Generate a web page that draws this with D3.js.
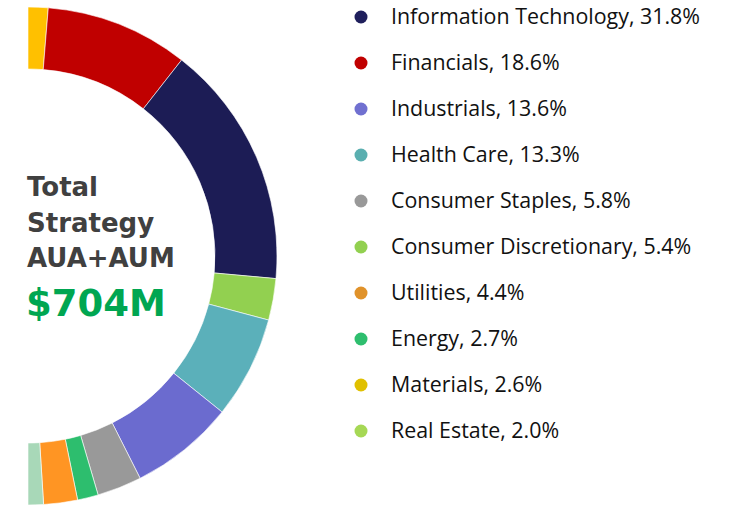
<!DOCTYPE html>
<html>
<head>
<meta charset="utf-8">
<script src="https://cdn.jsdelivr.net/npm/d3@7"></script>
<style>
  body { margin: 0; background: #fff; }
  svg { display: block; }
</style>
</head>
<body>
<svg width="733" height="506"></svg>
<script>
// legend order (as listed on the right)
const sectors = ['Information Technology', 'Financials', 'Industrials', 'Health Care', 'Consumer Staples',
  'Consumer Discretionary', 'Utilities', 'Energy', 'Materials', 'Real Estate'];
const weights = [31.8, 18.6, 13.6, 13.3, 5.8, 5.4, 4.4, 2.7, 2.6, 2.0];
// order of the slices round the ring, clockwise from the top
const ringOrder = ['Materials', 'Financials', 'Information Technology', 'Consumer Discretionary', 'Health Care',
  'Industrials', 'Consumer Staples', 'Energy', 'Utilities', 'Real Estate'];
const centerLines = ['Total', 'Strategy', 'AUA+AUM'];
const totalLabel = '$704M';

const sliceColor = {
  'Materials': '#ffc000', 'Financials': '#c00000', 'Information Technology': '#1c1c55',
  'Consumer Discretionary': '#92d050', 'Health Care': '#5bb0ba', 'Industrials': '#6b6bcf',
  'Consumer Staples': '#999999', 'Energy': '#2dbe6e', 'Utilities': '#ff9523', 'Real Estate': '#a8d8b8'
};
const dotColor = {
  'Information Technology': '#1f1f5c', 'Financials': '#c00000', 'Industrials': '#7070d0',
  'Health Care': '#5aafb0', 'Consumer Staples': '#999999', 'Consumer Discretionary': '#92d050',
  'Utilities': '#e0922a', 'Energy': '#2ebe6e', 'Materials': '#e0c000', 'Real Estate': '#a6d855'
};

const svg = d3.select('svg');
const weightOf = new Map(sectors.map((s, i) => [s, weights[i]]));
const ringData = ringOrder.map(s => ({ name: s, value: weightOf.get(s) }));

const cx = 28, cy = 256;
const outerR = 249, innerR = 187;

const pie = d3.pie()
  .value(d => d.value)
  .sort(null)
  .startAngle(0)
  .endAngle(Math.PI);

const arc = d3.arc()
  .innerRadius(innerR)
  .outerRadius(outerR);

const ring = svg.append('g')
  .attr('transform', `translate(${cx},${cy})`);

ring.selectAll('path')
  .data(pie(ringData))
  .enter().append('path')
    .attr('d', arc)
    .attr('fill', d => sliceColor[d.data.name])
    .attr('stroke', '#fff')
    .attr('stroke-width', 0.6);

// centre text
const centre = svg.append('g')
  .attr('font-family', 'DejaVu Sans, sans-serif')
  .attr('font-weight', 'bold');

centre.selectAll('text.line')
  .data(centerLines)
  .enter().append('text')
    .attr('class', 'line')
    .attr('x', 27)
    .attr('y', (d, i) => 196 + i * 35.5)
    .attr('font-size', 26)
    .attr('fill', '#404040')
    .text(d => d);

centre.append('text')
  .attr('x', 26)
  .attr('y', 316)
  .attr('font-size', 37)
  .attr('fill', '#00a651')
  .text(totalLabel);

// legend
const yLegend = d3.scalePoint()
  .domain(sectors)
  .range([16, 430]);

const legend = svg.append('g');
const item = legend.selectAll('g')
  .data(sectors)
  .enter().append('g')
    .attr('transform', d => `translate(0,${yLegend(d)})`);

item.append('circle')
  .attr('cx', 361)
  .attr('cy', 1)
  .attr('r', 6.5)
  .attr('fill', d => dotColor[d]);

item.append('text')
  .attr('x', 391)
  .attr('y', 7.5)
  .attr('font-family', 'Open Sans, sans-serif')
  .attr('font-size', 21.4)
  .attr('fill', '#111')
  .text(d => `${d}, ${weightOf.get(d).toFixed(1)}%`);
</script>
</body>
</html>
